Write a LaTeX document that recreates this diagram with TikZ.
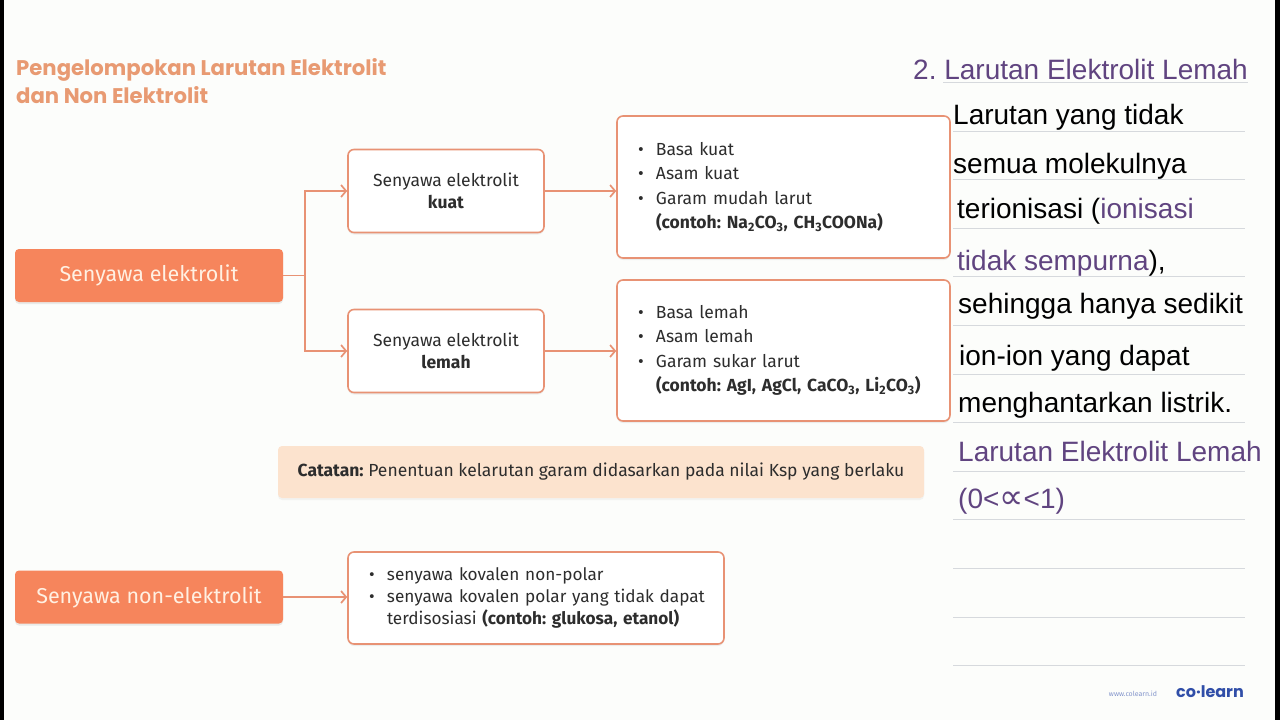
\documentclass[tikz,border=0pt]{standalone}
\usepackage{fontspec}
\setmainfont{Fira Sans}
\newfontfamily\titlefont{Poppins}
\newfontfamily\handfont{Liberation Sans}
\newfontfamily\symfont{DejaVu Sans}
\usetikzlibrary{arrows.meta,shadows}
\frenchspacing

\definecolor{paper}{RGB}{252,253,251}
\definecolor{boxorange}{RGB}{246,133,92}
\definecolor{creamtext}{RGB}{255,240,226}
\definecolor{lineorange}{RGB}{232,146,116}
\definecolor{titletan}{RGB}{232,154,114}
\definecolor{notepeach}{RGB}{252,227,206}
\definecolor{inkgray}{RGB}{45,45,45}
\definecolor{notepurple}{RGB}{96,68,128}
\definecolor{rulegray}{RGB}{214,217,221}
\definecolor{logoblue}{RGB}{48,78,168}

\newcommand{\bul}{\makebox[18pt][l]{\textbullet}}
\newcommand{\ind}{\hspace*{18pt}}

\begin{document}
\begin{tikzpicture}[x=1pt,y=-1pt,
    mainbox/.style={fill=boxorange, rounded corners=4pt, minimum width=268pt,
        minimum height=53pt, text=creamtext, font=\fontsize{21.5}{24}\selectfont,
        drop shadow={opacity=0.15, shadow xshift=0pt, shadow yshift=-2pt}},
    subbox/.style={draw=lineorange, line width=1.6pt, fill=white, rounded corners=6pt,
        minimum width=196pt, minimum height=83pt, align=center, text=inkgray,
        font=\fontsize{17.5}{22}\selectfont,
        drop shadow={opacity=0.12, shadow xshift=0pt, shadow yshift=-2pt}},
    listbox/.style={draw=lineorange, line width=1.6pt, fill=white, rounded corners=6pt,
        inner xsep=21pt, align=left, text=inkgray,
        drop shadow={opacity=0.12, shadow xshift=0pt, shadow yshift=-2pt}},
    conn/.style={draw=lineorange, line width=1.7pt, -{Straight Barb[length=5pt,width=12pt]}},
    ruleline/.style={draw=rulegray, line width=0.9pt},
    hand/.style={anchor=base west, inner sep=0pt, font=\handfont\fontsize{28}{30}\selectfont}]

    % Page
    \fill[paper] (0,0) rectangle (1280,720);
    \useasboundingbox (0,0) rectangle (1280,720);
    \fill[black] (0,0) rectangle (4,720);
    \fill[black] (1275,0) rectangle (1280,720);

    % Title
    \node[anchor=base west, inner sep=0pt, text=titletan,
        font=\titlefont\bfseries\fontsize{21.2}{28}\selectfont] (title1) at (16,75)
        {Pengelompokan Larutan Elektrolit};
    \node[anchor=base west, inner sep=0pt, text=titletan,
        font=\titlefont\bfseries\fontsize{21.2}{28}\selectfont] (title2) at (16,103)
        {dan Non Elektrolit};

    % Electrolyte branch
    \node[mainbox] (elek) at (149,275.5) {Senyawa elektrolit};
    \node[subbox] (kuat) at (446,191) {Senyawa elektrolit\\\textbf{kuat}};
    \node[subbox] (lemah) at (446,351) {Senyawa elektrolit\\\textbf{lemah}};

    \node[listbox, text width=291pt, minimum height=142pt,
        font=\fontsize{17.5}{24.3}\selectfont] (kuatlist) at (783.5,187)
        {\bul Basa kuat\\\bul Asam kuat\\\bul Garam mudah larut\\
         \ind\mbox{\textbf{(contoh: Na\textsubscript{2}CO\textsubscript{3}, CH\textsubscript{3}COONa)}}};
    \node[listbox, text width=291pt, minimum height=141pt,
        font=\fontsize{17.5}{24.3}\selectfont] (lemahlist) at (783.5,350.5)
        {\bul Basa lemah\\\bul Asam lemah\\\bul Garam sukar larut\\
         \ind\mbox{\textbf{(contoh: AgI, AgCl, CaCO\textsubscript{3}, Li\textsubscript{2}CO\textsubscript{3})}}};

    \draw[conn] (elek.east) -- ++(22,0) |- (kuat.west);
    \draw[conn] (elek.east) -- ++(22,0) |- (lemah.west);
    \draw[conn] (kuat.east) -- (kuat.east -| kuatlist.west);
    \draw[conn] (lemah.east) -- (lemah.east -| lemahlist.west);

    % Note
    \node[fill=notepeach, rounded corners=4pt, minimum width=646pt, minimum height=52pt,
        text=inkgray, font=\fontsize{17.5}{20}\selectfont,
        drop shadow={opacity=0.08, shadow xshift=0pt, shadow yshift=-2pt}] (catatan) at (601,472)
        {\textbf{Catatan:} Penentuan kelarutan garam didasarkan pada nilai Ksp yang berlaku};

    % Non-electrolyte branch
    \node[mainbox] (nonelek) at (149,597) {Senyawa non-elektrolit};
    \node[listbox, text width=334pt, minimum height=92pt,
        font=\fontsize{17.2}{22}\selectfont] (nonlist) at (536,598)
        {\bul senyawa kovalen non-polar\\
         \mbox{\bul senyawa kovalen polar yang tidak dapat}\\
         \ind\mbox{terdisosiasi \textbf{(contoh: glukosa, etanol)}}};
    \draw[conn] (nonelek.east) -- (nonelek.east -| nonlist.west);

    % Handwritten notes
    \draw[ruleline] (943,82) -- (1248,82);
    \foreach \i in {0,...,11}
        \draw[ruleline] (953,131+48.6*\i) -- (1245,131+48.6*\i);

    \node[hand, text=notepurple] (h0) at (913,79) {2. Larutan Elektrolit Lemah};
    \node[hand] (h1) at (953,124) {Larutan yang tidak};
    \node[hand] (h2) at (953,173) {semua molekulnya};
    \node[hand] (h3) at (957,218) {terionisasi (\textcolor{notepurple}{ionisasi}};
    \node[hand] (h4) at (957,270) {\textcolor{notepurple}{tidak sempurna}),};
    \node[hand] (h5) at (958,313) {sehingga hanya sedikit};
    \node[hand] (h6) at (959,365) {ion-ion yang dapat};
    \node[hand] (h7) at (958,412) {menghantarkan listrik.};
    \node[hand, text=notepurple] (h8) at (958,461) {Larutan Elektrolit Lemah};
    \node[hand, text=notepurple] (h9) at (958,508)
        {(0<{\symfont\fontsize{34}{30}\selectfont ∝}<1)};

    % Logo
    \node[text=logoblue!60, font=\fontsize{7}{8}\selectfont] (web) at (1133,694) {www.colearn.id};
    \node[text=logoblue, font=\titlefont\bfseries\fontsize{16}{18}\selectfont] (logo) at (1210,692)
        {co\textperiodcentered learn};

\end{tikzpicture}
\end{document}
